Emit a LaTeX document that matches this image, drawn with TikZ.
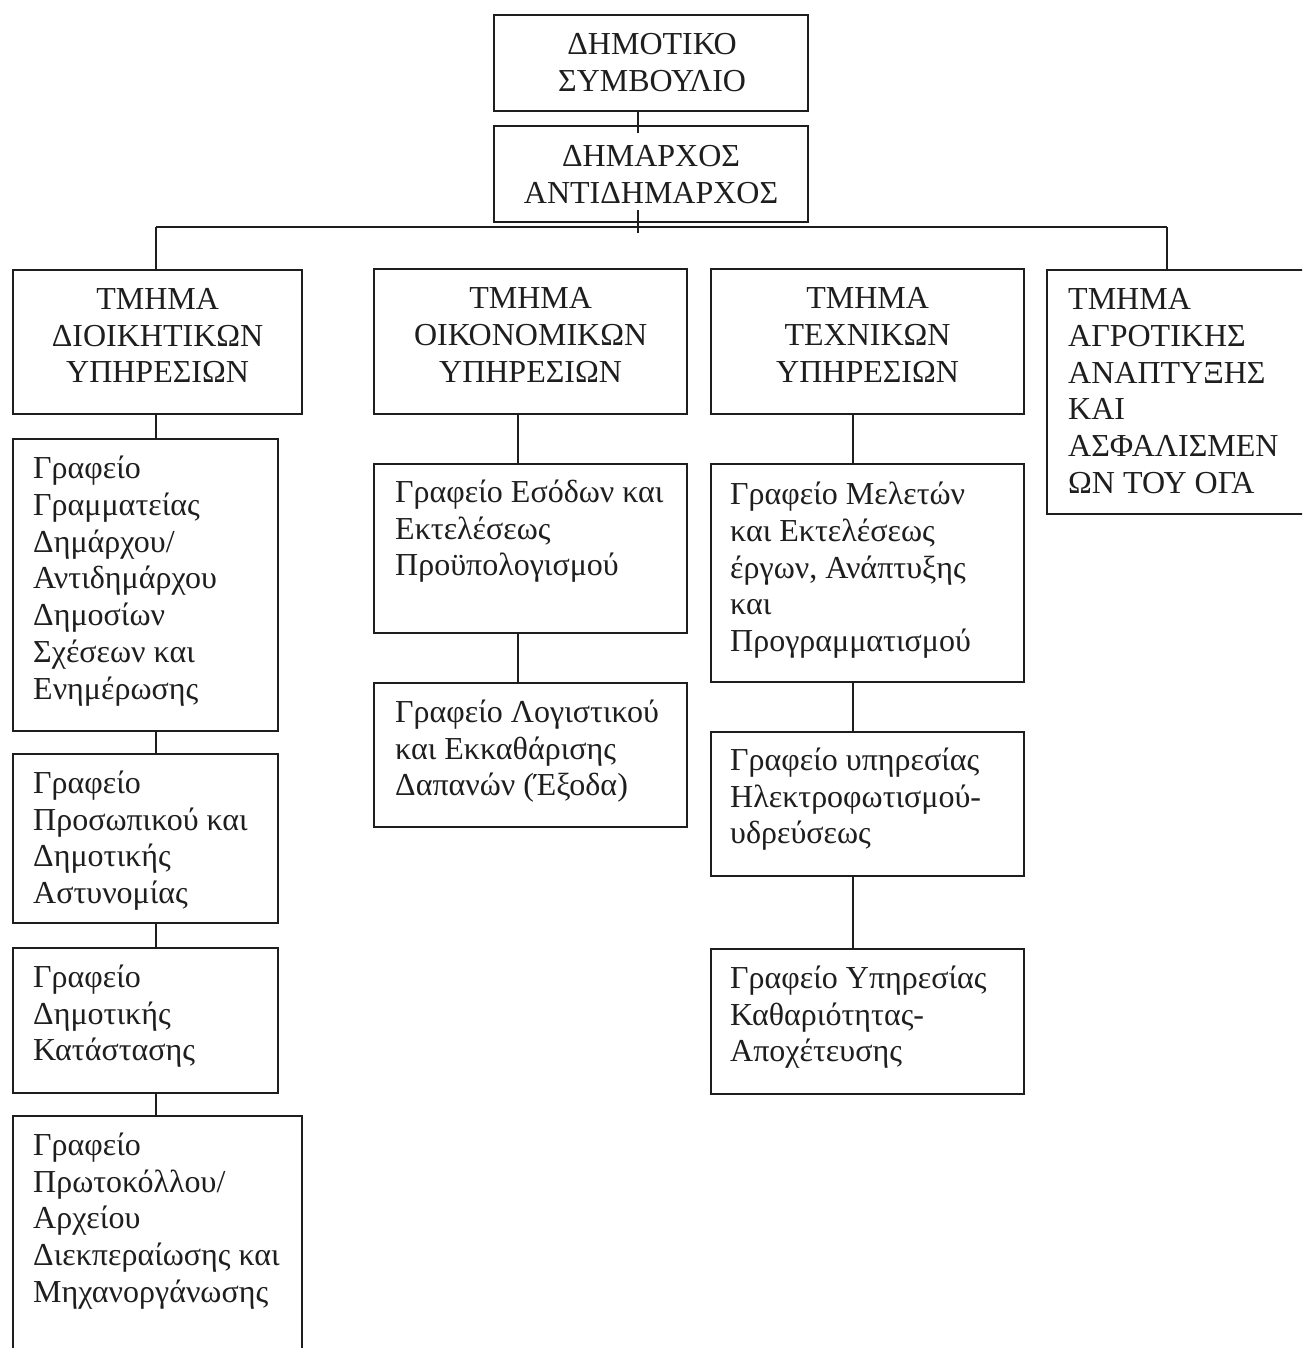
\documentclass[tikz,border=0pt]{standalone}
\usepackage{fontspec}
\setmainfont{Liberation Serif}
\usetikzlibrary{calc}

\definecolor{ink}{HTML}{1E1E1E}

\tikzset{
  orgbox/.style={draw=ink, line width=2.2pt, fill=none, inner sep=0pt, anchor=north west},
  lbl/.style={inner sep=0pt, text=ink, font=\fontsize{32}{36.7}\selectfont},
  ctxt/.style={lbl, align=center, anchor=north},
  ltxt/.style={lbl, align=left, anchor=north west},
  link/.style={draw=ink, line width=2.2pt}
}

% box with its size given in px (1px = 1pt here)
\newcommand{\orgnode}[5]{%
  \node[orgbox, minimum width=#3pt, minimum height=#4pt] (#1) at (#2) {};}

\begin{document}
\begin{tikzpicture}[x=1pt,y=-1pt]
  \clip (0,0) rectangle (1302,1348);
  \fill[white] (0,0) rectangle (1302,1348);

  % ---- boxes ----
  \orgnode{ds}{493,14}{314}{96}{}
  \orgnode{dm}{493,125}{314}{96}{}
  \orgnode{t1}{12,269}{289}{144}{}
  \orgnode{t2}{373,268}{313}{145}{}
  \orgnode{t3}{710,268}{313}{145}{}
  \orgnode{t4}{1046,269}{290}{244}{}
  \orgnode{a1}{12,438}{265}{292}{}
  \orgnode{a2}{12,753}{265}{169}{}
  \orgnode{a3}{12,947}{265}{145}{}
  \orgnode{a4}{12,1115}{289}{260}{}
  \orgnode{b1}{373,463}{313}{169}{}
  \orgnode{b2}{373,682}{313}{144}{}
  \orgnode{c1}{710,463}{313}{218}{}
  \orgnode{c2}{710,731}{313}{144}{}
  \orgnode{c3}{710,948}{313}{145}{}

  % ---- texts ----
  \node[ctxt] (ds-t) at ($(ds.north)+(1,14.8)$) {\strut ΔΗΜΟΤΙΚΟ\\ΣΥΜΒΟΥΛΙΟ};
  \node[ctxt] (dm-t) at ($(dm.north)+(0,15.5)$) {\strut ΔΗΜΑΡΧΟΣ\\ΑΝΤΙΔΗΜΑΡΧΟΣ};
  \node[ctxt] (t1-t) at ($(t1.north)+(0,14.5)$) {\strut ΤΜΗΜΑ\\ΔΙΟΙΚΗΤΙΚΩΝ\\ΥΠΗΡΕΣΙΩΝ};
  \node[ctxt] (t2-t) at ($(t2.north)+(0,15)$) {\strut ΤΜΗΜΑ\\ΟΙΚΟΝΟΜΙΚΩΝ\\ΥΠΗΡΕΣΙΩΝ};
  \node[ctxt] (t3-t) at ($(t3.north)+(0,15)$) {\strut ΤΜΗΜΑ\\ΤΕΧΝΙΚΩΝ\\ΥΠΗΡΕΣΙΩΝ};
  \node[ltxt] (t4-t) at ($(t4.north west)+(22,15)$) {\strut ΤΜΗΜΑ\\ΑΓΡΟΤΙΚΗΣ\\ΑΝΑΠΤΥΞΗΣ\\ΚΑΙ\\ΑΣΦΑΛΙΣΜΕΝ\\ΩΝ ΤΟΥ ΟΓΑ};

  \node[ltxt] (a1-t) at ($(a1.north west)+(21,15)$) {\strut Γραφείο\\Γραμματείας\\Δημάρχου/\\Αντιδημάρχου\\Δημοσίων\\Σχέσεων και\\Ενημέρωσης};
  \node[ltxt] (a2-t) at ($(a2.north west)+(21,14.5)$) {\strut Γραφείο\\Προσωπικού και\\Δημοτικής\\Αστυνομίας};
  \node[ltxt] (a3-t) at ($(a3.north west)+(21,14.5)$) {\strut Γραφείο\\Δημοτικής\\Κατάστασης};
  \node[ltxt] (a4-t) at ($(a4.north west)+(21,14.5)$) {\strut Γραφείο\\Πρωτοκόλλου/\\Αρχείου\\Διεκπεραίωσης και\\Μηχανοργάνωσης};

  \node[ltxt] (b1-t) at ($(b1.north west)+(22,13.5)$) {\strut Γραφείο Εσόδων και\\Εκτελέσεως\\Προϋπολογισμού};
  \node[ltxt] (b2-t) at ($(b2.north west)+(22,14.5)$) {\strut Γραφείο Λογιστικού\\και Εκκαθάρισης\\Δαπανών (Έξοδα)};

  \node[ltxt] (c1-t) at ($(c1.north west)+(20,16)$) {\strut Γραφείο Μελετών\\και Εκτελέσεως\\έργων, Ανάπτυξης\\και\\Προγραμματισμού};
  \node[ltxt] (c2-t) at ($(c2.north west)+(20,13.5)$) {\strut Γραφείο υπηρεσίας\\Ηλεκτροφωτισμού-\\υδρεύσεως};
  \node[ltxt] (c3-t) at ($(c3.north west)+(20,14.5)$) {\strut Γραφείο Υπηρεσίας\\Καθαριότητας-\\Αποχέτευσης};

  % ---- connector columns and bus ----
  \coordinate (spine) at (638,0);
  \coordinate (colA) at (156,0);
  \coordinate (colB) at (518,0);
  \coordinate (colC) at (853,0);
  \coordinate (busL) at (156,227);
  \coordinate (busR) at (1167,227);

  % council -> mayor
  \draw[link] (spine |- ds.south) -- ($(spine |- dm.north)+(0,8)$);
  % mayor -> bus
  \draw[link] ($(spine |- dm.south)+(0,-13)$) -- ($(spine |- busL)+(0,6)$);
  \draw[link] (busL) -- (busR);
  \draw[link] (busL) -- (colA |- t1.north);
  \draw[link] (busR) -- (busR |- t4.north);

  % administrative column
  \draw[link] (colA |- t1.south) -- (colA |- a1.north);
  \draw[link] (colA |- a1.south) -- (colA |- a2.north);
  \draw[link] (colA |- a2.south) -- (colA |- a3.north);
  \draw[link] (colA |- a3.south) -- (colA |- a4.north);

  % financial column
  \draw[link] (colB |- t2.south) -- (colB |- b1.north);
  \draw[link] (colB |- b1.south) -- (colB |- b2.north);

  % technical column
  \draw[link] (colC |- t3.south) -- (colC |- c1.north);
  \draw[link] (colC |- c1.south) -- (colC |- c2.north);
  \draw[link] (colC |- c2.south) -- (colC |- c3.north);
\end{tikzpicture}
\end{document}
